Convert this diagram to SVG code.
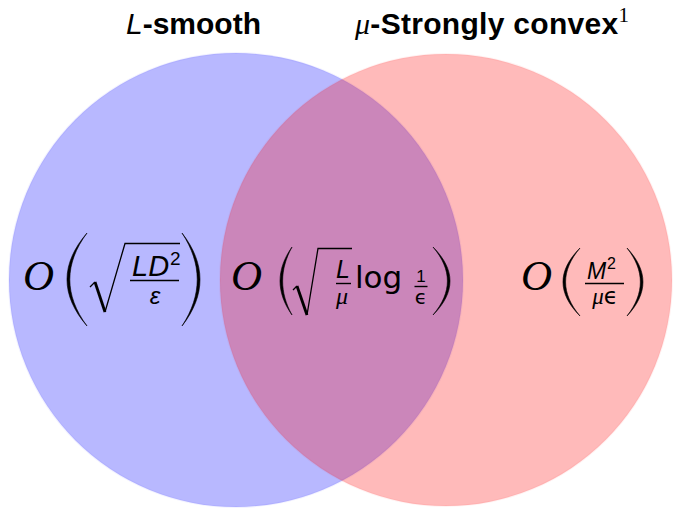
<svg xmlns="http://www.w3.org/2000/svg" width="674" height="508" viewBox="0 0 674 508">
<style>
.set{stroke-width:2}
.blue{fill:rgb(0,0,255);fill-opacity:0.28;stroke:rgb(0,0,255);stroke-opacity:0.05}
.red{fill:rgb(255,0,0);fill-opacity:0.27;stroke:rgb(255,0,0);stroke-opacity:0.05}
.title{font-family:"Liberation Sans",Arial,sans-serif;font-weight:bold;font-size:30px;fill:#000}
.nb{font-weight:normal}
.it{font-style:italic}
.ser{font-family:"Liberation Serif","Times New Roman",serif}
.cal{font-family:"Liberation Serif","Times New Roman",serif;font-style:italic;font-size:43px;fill:#000}
.mi{font-family:"Liberation Sans",Arial,sans-serif;font-style:italic;fill:#000}
.mr{font-family:"Liberation Sans",Arial,sans-serif;fill:#000}
.dj{font-family:"DejaVu Sans",sans-serif;fill:#000}
.bar{stroke:#000;stroke-width:1.4;fill:none}
.rad{stroke:#000;stroke-width:1.3;fill:none;stroke-linejoin:miter}
.radk{stroke:#000;stroke-width:2.8;fill:none}
.par{fill:#000;stroke:#000;stroke-width:0.6}
</style>
<g id="set-smooth">
  <circle class="set blue" cx="236" cy="280" r="227"/>
  <text class="title" x="126" y="34"><tspan class="it nb">L</tspan>-smooth</text>
</g>
<g id="set-strong">
  <circle class="set red" cx="446" cy="280" r="226"/>
  <text class="title" x="355" y="34" letter-spacing="0.3"><tspan class="ser it nb">μ</tspan>-Strongly convex<tspan class="ser nb" font-size="21" dy="-12">1</tspan></text>
</g>
<g id="rate-smooth">
  <text class="cal" x="23" y="290">O</text>
  <path class="par" d="M87,233 C60.3,264 60.3,295 87,326 C64.1,295 64.1,264 87,233 Z"/>
  <path class="rad" d="M90,287 L95,282 M105,312 L125,243.5 H180"/>
  <path class="radk" d="M95,282 L105,312"/>
  <text class="mi" x="132" y="276" font-size="29">LD</text>
  <text class="mr" x="170" y="265" font-size="19">2</text>
  <line class="bar" x1="130" y1="280.5" x2="179" y2="280.5"/>
  <text class="mi" x="155" y="304" font-size="24" text-anchor="middle">ε</text>
  <path class="par" d="M182,233 C206,264 206,295 182,326 C202.3,295 202.3,264 182,233 Z"/>
</g>
<g id="rate-both">
  <text class="cal" x="231" y="290">O</text>
  <path class="par" d="M292,247 C276,269.7 276,292.3 292,315 C279.5,292.3 279.5,269.7 292,247 Z"/>
  <path class="rad" d="M293,290 L297,286 M307,315 L318,248.5 H352"/>
  <path class="radk" d="M297,286 L307,315"/>
  <text class="mi" x="343" y="278" font-size="25" text-anchor="middle">L</text>
  <line class="bar" x1="336" y1="283.5" x2="351" y2="283.5"/>
  <text class="ser it" x="342" y="304" font-size="24" text-anchor="middle">μ</text>
  <text class="dj" x="355" y="288" font-size="31">log</text>
  <text class="mr" x="421" y="282" font-size="17" text-anchor="middle">1</text>
  <line class="bar" x1="414.5" y1="286.5" x2="427.5" y2="286.5"/>
  <text class="dj" x="421" y="304" font-size="20" text-anchor="middle">ϵ</text>
  <path class="par" d="M433,247 C455.7,269.7 455.7,292.3 433,315 C452.2,292.3 452.2,269.7 433,247 Z"/>
</g>
<g id="rate-strong">
  <text class="cal" x="521" y="290">O</text>
  <path class="par" d="M580,248 C557.3,270.7 557.3,293.3 580,316 C560.8,293.3 560.8,270.7 580,248 Z"/>
  <text class="mi" x="587" y="279" font-size="23">M</text>
  <text class="mr" x="607" y="269" font-size="16">2</text>
  <line class="bar" x1="585" y1="283.5" x2="624" y2="283.5"/>
  <text x="605" y="304" font-size="23" text-anchor="middle"><tspan class="ser it">μ</tspan><tspan class="dj">ϵ</tspan></text>
  <path class="par" d="M627,248 C648.3,270.7 648.3,293.3 627,316 C644.8,293.3 644.8,270.7 627,248 Z"/>
</g>
</svg>
